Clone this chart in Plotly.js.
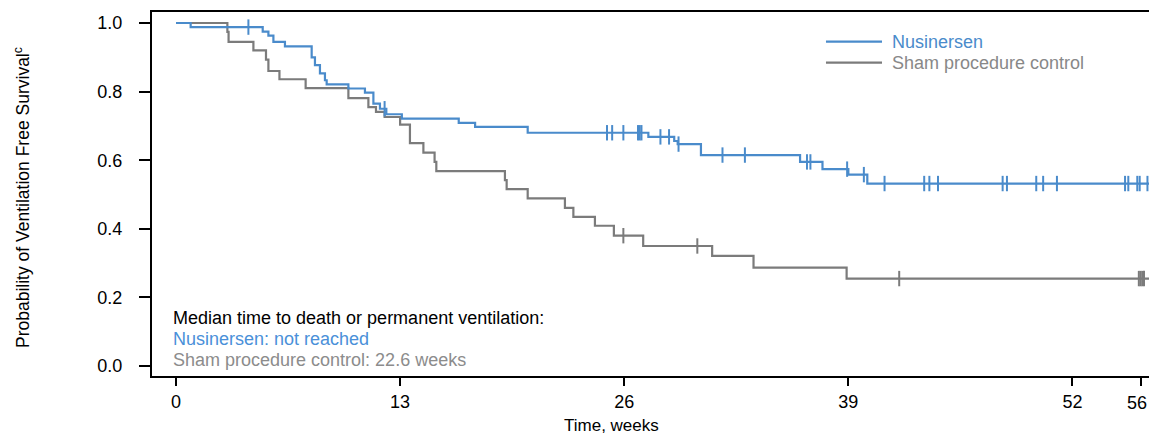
<!DOCTYPE html>
<html><head><meta charset="utf-8">
<script src="https://cdn.plot.ly/plotly-3.0.1.min.js"></script>
<style>html,body{margin:0;padding:0;background:#fff;overflow:hidden}#chart{width:1149px;height:436px}</style>
</head><body><div id="chart"></div>
<script>
// Kaplan-Meier step data (weeks, survival probability)
const nusTime = [0,0.85,5.03,5.36,5.65,6.32,7.87,8.06,8.35,8.64,8.74,10.0,10.96,11.45,11.83,12.2,13.1,16.4,17.35,20.4,27.4,28.9,29.1,30.45,36.2,37.5,39.0,40.1,56.44];
const nusSurv = [1.0,0.988,0.975,0.963,0.945,0.932,0.900,0.877,0.853,0.833,0.821,0.809,0.797,0.765,0.750,0.734,0.721,0.709,0.697,0.680,0.668,0.656,0.647,0.615,0.595,0.574,0.558,0.532,0.532];
const nusCensor = [4.2,12.1,25.0,25.3,25.95,26.8,26.9,27.0,28.1,28.6,29.15,31.7,33.0,36.6,36.8,38.93,39.9,41.1,43.4,43.7,44.2,47.95,48.2,49.9,50.3,51.1,55.05,55.24,55.76,55.9,56.35];

const shamTime = [0,2.98,3.05,4.49,5.22,5.36,6.0,7.52,10.0,11.16,11.6,12.1,13.0,13.57,14.35,15.0,15.1,19.08,19.18,20.4,22.56,23.05,24.3,25.4,27.1,31.1,33.5,38.9,56.44];
const shamSurv = [1.0,0.974,0.945,0.920,0.893,0.860,0.836,0.810,0.781,0.755,0.741,0.726,0.704,0.650,0.622,0.595,0.568,0.542,0.516,0.489,0.461,0.435,0.409,0.380,0.350,0.321,0.287,0.255,0.255];
const shamCensor = [25.95,30.24,41.95,55.85,55.95,56.05,56.15];

const xTicks = [0,13,26,39,52,56];
const xTickText = ['0','13','26','39','52','56'];
const yTicks = [0,0.2,0.4,0.6,0.8,1.0];
const yTickText = ['0.0','0.2','0.4','0.6','0.8','1.0'];

const seriesNames = ['Nusinersen','Sham procedure control'];
const medianLines = ['Median time to death or permanent ventilation:','Nusinersen: not reached','Sham procedure control: 22.6 weeks'];

const BLUE = '#4a8bcb';
const GRAY = '#7b7b7b';

function survAt(times, surv, t){
  let v = surv[0];
  for (let i=0;i<times.length;i++){ if (times[i] <= t) v = surv[i]; }
  return v;
}

const traces = [
  {x: shamTime, y: shamSurv, mode:'lines', line:{shape:'hv', color:GRAY, width:2.2}, name:seriesNames[1], hoverinfo:'skip'},
  {x: shamCensor, y: shamCensor.map(t=>survAt(shamTime,shamSurv,t)), mode:'markers',
   marker:{symbol:'line-ns', size:11, line:{width:2, color:GRAY}, color:GRAY}, hoverinfo:'skip'},
  {x: nusTime, y: nusSurv, mode:'lines', line:{shape:'hv', color:BLUE, width:2.2}, name:seriesNames[0], hoverinfo:'skip'},
  {x: nusCensor, y: nusCensor.map(t=>survAt(nusTime,nusSurv,t)), mode:'markers',
   marker:{symbol:'line-ns', size:11, line:{width:2, color:BLUE}, color:BLUE}, hoverinfo:'skip'}
];

const FONT = 'Liberation Sans, Arial, Helvetica, sans-serif';

// the last tick label sits against the right edge, so it is drawn as an annotation shifted left
const lastIdx = xTicks.length - 1;
const shownTickText = xTickText.map((t,i)=> i===lastIdx ? ' ' : t);

const layout = {
  width:1149, height:436,
  margin:{l:152, r:0, t:12, b:60},
  paper_bgcolor:'#ffffff', plot_bgcolor:'#ffffff',
  showlegend:false,
  font:{family:FONT, size:18, color:'#000'},
  xaxis:{range:[-1.392,56.44], tickvals:xTicks, ticktext:shownTickText, ticks:'outside', ticklen:8, tickwidth:2, tickcolor:'#000',
         showline:true, linewidth:2, linecolor:'#000', mirror:true, showgrid:false, zeroline:false,
         tickfont:{family:FONT, size:18, color:'#000'}},
  yaxis:{range:[-0.029,1.032], tickvals:yTicks, ticktext:yTickText, ticks:'outside', ticklen:11, tickwidth:2, tickcolor:'#000',
         showline:true, linewidth:2, linecolor:'#000', mirror:false, showgrid:false, zeroline:false,
         ticklabelstandoff:13, tickfont:{family:FONT, size:18, color:'#000'}},
  shapes:[
    {type:'line', xref:'paper', yref:'paper', x0:0.676, x1:0.7322, y0:0.9184, y1:0.9184, line:{color:BLUE, width:2.2}},
    {type:'line', xref:'paper', yref:'paper', x0:0.676, x1:0.7322, y0:0.8607, y1:0.8607, line:{color:GRAY, width:2.2}}
  ],
  annotations:[
    {xref:'x', yref:'paper', x:xTicks[lastIdx], y:-0.0742, xanchor:'center', yanchor:'middle', xshift:-4, showarrow:false,
     text:xTickText[lastIdx], font:{family:FONT, size:18, color:'#000'}},
    {xref:'paper', yref:'paper', x:0.740, y:0.9184, xanchor:'left', yanchor:'middle', showarrow:false,
     text:seriesNames[0], font:{family:FONT, size:18, color:BLUE}},
    {xref:'paper', yref:'paper', x:0.740, y:0.8607, xanchor:'left', yanchor:'middle', showarrow:false,
     text:seriesNames[1], font:{family:FONT, size:18, color:'#888'}},
    {xref:'paper', yref:'paper', x:0.019, y:0.159, xanchor:'left', yanchor:'middle', showarrow:false,
     text:medianLines[0], font:{family:FONT, size:18, color:'#000'}},
    {xref:'paper', yref:'paper', x:0.019, y:0.1016, xanchor:'left', yanchor:'middle', showarrow:false,
     text:medianLines[1], font:{family:FONT, size:18, color:'#4a90d9'}},
    {xref:'paper', yref:'paper', x:0.019, y:0.044, xanchor:'left', yanchor:'middle', showarrow:false,
     text:medianLines[2], font:{family:FONT, size:18, color:'#8c8c8c'}},
    {xref:'paper', yref:'paper', x:0.461, y:-0.137, xanchor:'center', yanchor:'middle', showarrow:false,
     text:'Time, weeks', font:{family:FONT, size:17, color:'#000'}},
    {xref:'paper', yref:'paper', x:-0.1304, y:0.4918, xanchor:'center', yanchor:'middle', showarrow:false, textangle:-90,
     text:'Probability of Ventilation Free Survival<sup>c</sup>', font:{family:FONT, size:17.5, color:'#000'}}
  ]
};

Plotly.newPlot('chart', traces, layout, {displayModeBar:false, staticPlot:true});
</script></body></html>
